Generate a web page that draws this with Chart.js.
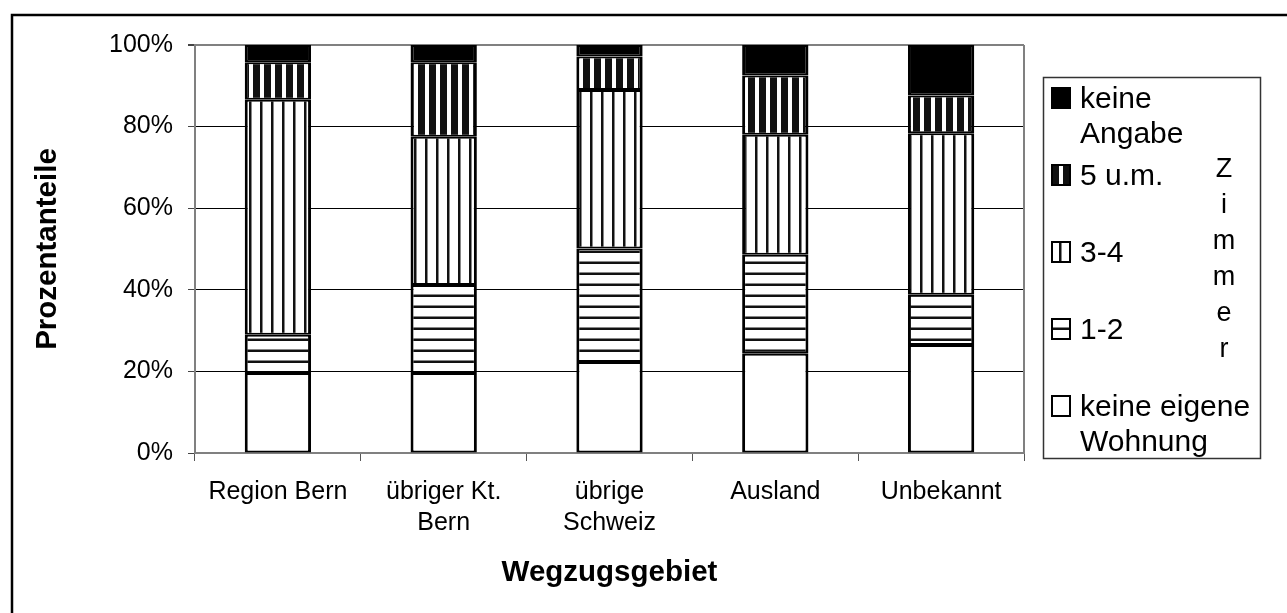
<!DOCTYPE html>
<html lang="de">
<head>
<meta charset="UTF-8">
<title>Wegzugsgebiet nach Zimmerzahl</title>
<style>
    body { margin: 0; background: #fff; }
    #wrap { width: 1287px; height: 613px; position: relative; }
</style>
</head>
<body>
<div id="wrap"><canvas id="chart"></canvas></div>
<script src="https://cdn.jsdelivr.net/npm/chart.js"></script>
<script>
// Daten (Prozentanteile, von unten nach oben gestapelt)
const categories = ['Region Bern', ['übriger Kt.', 'Bern'], ['übrige', 'Schweiz'], 'Ausland', 'Unbekannt'];
const seriesNames = ['keine eigene\nWohnung', '1-2', '3-4', '5 u.m.', 'keine\nAngabe'];
const keineEigene = [19.6, 19.6, 22.3, 24.3, 26.5];
const zimmer12 = [9.4, 21.6, 27.8, 24.3, 12.3];
const zimmer34 = [57.6, 36.3, 38.9, 29.4, 39.6];
const zimmer5 = [9.2, 18.3, 8.2, 14.5, 9.2];
const keineAngabe = [4.2, 4.2, 2.8, 7.5, 12.4];
const yTicks = [0, 20, 40, 60, 80, 100];
const groupLabel = 'Zimmer';

const FONT = '"Liberation Sans", Arial, sans-serif';
const ctx = document.getElementById('chart').getContext('2d');

// Schraffuren wie im Original
function makePattern(draw) {
    const c = document.createElement('canvas');
    c.width = 11; c.height = 11;
    const g = c.getContext('2d');
    g.fillStyle = '#fff';
    g.fillRect(0, 0, 11, 11);
    g.fillStyle = '#111';
    draw(g);
    return ctx.createPattern(c, 'repeat');
}
const fills = [
    '#ffffff',
    makePattern(g => g.fillRect(0, 8.5, 11, 2.5)),   // waagrecht
    makePattern(g => g.fillRect(7, 0, 2.5, 11)),     // senkrecht dünn
    makePattern(g => g.fillRect(0, 0, 7, 11)),       // senkrecht dick
    '#000000'
];
const values = [keineEigene, zimmer12, zimmer34, zimmer5, keineAngabe];

const frame = {
    id: 'frame',
    beforeDraw(chart) {
        const c = chart.ctx;
        c.save();
        c.strokeStyle = '#000';
        c.lineWidth = 2.5;
        c.beginPath();
        c.moveTo(12, chart.height + 5);
        c.lineTo(12, 15);
        c.lineTo(chart.width + 5, 15);
        c.stroke();
        c.restore();
    },
    beforeDatasetsDraw(chart) {
        const a = chart.chartArea, c = chart.ctx;
        c.save();
        c.strokeStyle = '#808080';
        c.lineWidth = 2;
        c.beginPath();
        c.moveTo(a.right, a.top);
        c.lineTo(a.right, a.bottom);
        c.stroke();
        c.restore();
    }
};

const boxLegend = {
    id: 'boxLegend',
    afterDraw(chart) {
        const c = chart.ctx;
        c.save();
        c.strokeStyle = '#333';
        c.lineWidth = 1.5;
        c.strokeRect(1043.5, 77.5, 217, 381);
        c.font = '30px ' + FONT;
        c.textBaseline = 'alphabetic';
        c.fillStyle = '#000';
        const ds = chart.data.datasets;
        for (let i = 0; i < ds.length; i++) {
            const d = ds[ds.length - 1 - i];
            const base = 108 + 77 * i;
            c.save();
            c.translate(1052, base - 20);
            c.fillStyle = d.backgroundColor;
            c.fillRect(0, 0, 18, 20);
            c.strokeStyle = '#000';
            c.lineWidth = 2;
            c.strokeRect(0, 0, 18, 20);
            c.restore();
            d.label.split('\n').forEach((line, k) => {
                c.fillText(line, 1080, base + 35 * k);
            });
        }
        c.font = '27px ' + FONT;
        c.textAlign = 'center';
        groupLabel.split('').forEach((ch, k) => {
            c.fillText(ch, 1224, 177 + 36 * k);
        });
        c.restore();
    }
};

new Chart(ctx, {
    type: 'bar',
    data: {
        labels: categories,
        datasets: seriesNames.map((name, i) => ({
            label: name,
            data: values[i],
            backgroundColor: fills[i],
            borderColor: '#000',
            borderWidth: { top: 2, bottom: 2, left: 3, right: 3 },
            borderSkipped: false,
            barPercentage: 0.4,
            categoryPercentage: 1
        }))
    },
    options: {
        responsive: true,
        maintainAspectRatio: false,
        animation: false,
        layout: { padding: { top: 45, right: 263, left: 0, bottom: 0 } },
        plugins: {
            legend: { display: false },
            tooltip: { enabled: false }
        },
        scales: {
            x: {
                stacked: true,
                offset: true,
                grid: {
                    offset: true,
                    drawOnChartArea: false,
                    drawTicks: true,
                    tickLength: 8,
                    color: '#555'
                },
                border: { color: '#808080', width: 2 },
                ticks: {
                    color: '#000',
                    font: { family: FONT, size: 25, lineHeight: 1.24 },
                    padding: 16,
                    maxRotation: 0,
                    autoSkip: false
                },
                title: {
                    display: true,
                    text: 'Wegzugsgebiet',
                    color: '#000',
                    font: { family: FONT, size: 29.5, weight: 'bold', lineHeight: 1.2 },
                    padding: { top: 0, bottom: 22 }
                },
                afterFit(scale) { scale.height = 160; }
            },
            y: {
                stacked: true,
                min: 0,
                max: 100,
                afterBuildTicks(scale) { scale.ticks = yTicks.map(v => ({ value: v })); },
                grid: {
                    color: c => (c.tick && (c.tick.value === 100 || c.tick.value === 0)) ? '#808080' : '#000',
                    lineWidth: c => (c.tick && c.tick.value === 100) ? 2 : 1,
                    tickColor: '#444',
                    tickLength: 7
                },
                border: { color: '#808080', width: 2 },
                ticks: {
                    color: '#000',
                    font: { family: FONT, size: 25 },
                    padding: 15,
                    callback: v => v + '%'
                },
                title: {
                    display: true,
                    text: 'Prozentanteile',
                    color: '#000',
                    font: { family: FONT, size: 29.5, weight: 'bold', lineHeight: 1.2 },
                    padding: { top: 30, bottom: 0 }
                },
                afterFit(scale) { scale.width = 195; }
            }
        }
    },
    plugins: [frame, boxLegend]
});
</script>
</body>
</html>
